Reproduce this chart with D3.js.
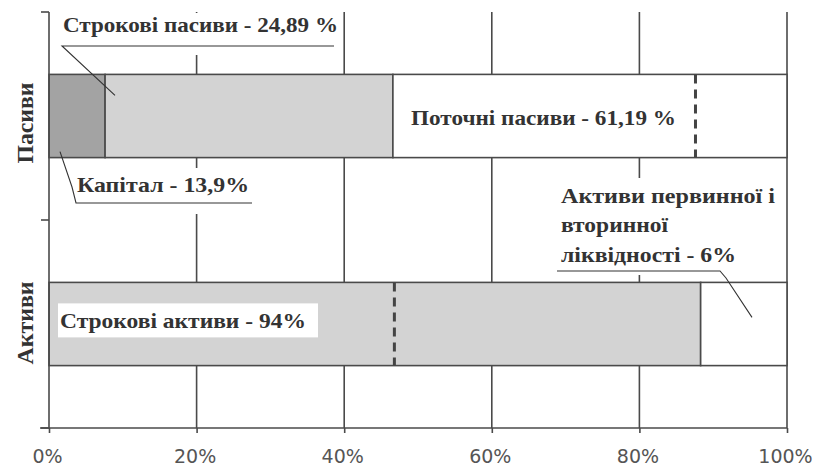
<!DOCTYPE html>
<html>
<head>
<meta charset="utf-8">
<script src="https://cdn.jsdelivr.net/npm/d3@7"></script>
<style>
  html, body { margin: 0; padding: 0; background: #fff; }
  svg { display: block; }
</style>
</head>
<body>
<svg id="chart" width="816" height="472"></svg>
<script>
// ---- data ----
const categories = ["Пасиви", "Активи"];
// segments as drawn, in % of the axis
const pasyvySegmentNames = ["Капітал", "Строкові пасиви", "Поточні пасиви"];
const pasyvyValues = [7.6, 39.0, 53.4];
const aktyvySegmentNames = ["Строкові активи", "Активи первинної і вторинної ліквідності"];
const aktyvyValues = [88.3, 11.7];
// dashed marker lines inside each bar (%)
const dashedMarkers = [87.6, 46.8];
const xTickValues = [0, 20, 40, 60, 80, 100];
const xTickLabels = ["0%", "20%", "40%", "60%", "80%", "100%"];
const gridValues = [20, 40, 60, 80, 100];
// label texts
const labelStrokoviPasyvy = "Строкові пасиви - 24,89 %";
const labelKapital = "Капітал - 13,9%";
const labelPotochni = "Поточні пасиви - 61,19 %";
const labelStrokoviAktyvy = "Строкові активи - 94%";
const labelLiquidLines = ["Активи первинної і", "вторинної", "ліквідності - 6%"];

// ---- styles ----
const pasyvyFills = ["#a3a3a3", "#d3d3d3", "#ffffff"];
const aktyvyFills = ["#d3d3d3", "#ffffff"];
const lineColor = "#4a4a4a";
const textColor = "#333333";
const serif = "'Liberation Serif', 'Times New Roman', serif";

const svg = d3.select("#chart");

const x = d3.scaleLinear().domain([0, 100]).range([49, 787]);
const y = d3.scaleBand().domain(categories).range([12, 428]).paddingInner(0.6).paddingOuter(0.3);
const step = y.step();
const bandTop = c => y(c) - y.paddingOuter() * step;

// gridlines
svg.append("g").selectAll("line").data(gridValues).join("line")
  .attr("x1", d => x(d)).attr("x2", d => x(d))
  .attr("y1", y.range()[0]).attr("y2", y.range()[1])
  .attr("stroke", lineColor).attr("stroke-width", 1.6);

// stacked bars
function stack(values, names, fills) {
  let acc = 0;
  return values.map((v, i) => { const s = { x0: acc, x1: acc + v, name: names[i], fill: fills[i] }; acc += v; return s; });
}
const rows = [
  { cat: categories[0], segs: stack(pasyvyValues, pasyvySegmentNames, pasyvyFills), dash: dashedMarkers[0] },
  { cat: categories[1], segs: stack(aktyvyValues, aktyvySegmentNames, aktyvyFills), dash: dashedMarkers[1] }
];

const barG = svg.append("g");
rows.forEach(r => {
  barG.append("g").selectAll("rect").data(r.segs).join("rect")
    .attr("x", d => x(d.x0)).attr("width", d => x(d.x1) - x(d.x0))
    .attr("y", y(r.cat)).attr("height", y.bandwidth())
    .attr("fill", d => d.fill)
    .attr("stroke", lineColor).attr("stroke-width", 1.6);
  barG.append("line")
    .attr("x1", x(r.dash)).attr("x2", x(r.dash))
    .attr("y1", y(r.cat)).attr("y2", y(r.cat) + y.bandwidth())
    .attr("stroke", "#444").attr("stroke-width", 3)
    .attr("stroke-dasharray", "9,6");
});

// axes
const axisG = svg.append("g");
axisG.append("line").attr("x1", x(0)).attr("x2", x(0))
  .attr("y1", y.range()[0]).attr("y2", y.range()[1])
  .attr("stroke", lineColor).attr("stroke-width", 1.6);
const yBoundaries = categories.map(bandTop).concat([y.range()[1]]);
axisG.selectAll("line.yt").data(yBoundaries).join("line").attr("class", "yt")
  .attr("x1", x(0) - 8).attr("x2", x(0)).attr("y1", d => d).attr("y2", d => d)
  .attr("stroke", lineColor).attr("stroke-width", 1.6);

const xAxis = d3.axisBottom(x).tickValues(xTickValues)
  .tickFormat((d, i) => xTickLabels[i]).tickSize(5).tickSizeOuter(0).tickPadding(17);
const xg = svg.append("g").attr("transform", `translate(0,${y.range()[1]})`).call(xAxis);
xg.select(".domain").attr("d", `M${x(0) - 9},0H${x(100)}`).attr("stroke", lineColor).attr("stroke-width", 1.6);
xg.selectAll(".tick line").attr("stroke", lineColor).attr("stroke-width", 1.6);
xg.selectAll(".tick text")
  .attr("font-family", "'DejaVu Sans', Verdana, sans-serif")
  .attr("font-size", 19).attr("fill", "#555").attr("dx", -2);

// category labels (rotated)
svg.append("g").selectAll("text").data(categories).join("text")
  .attr("transform", (d, i) => `translate(33,${y(d) + y.bandwidth() / 2 + (i === 0 ? 7 : -1)}) rotate(-90)`)
  .attr("text-anchor", "middle")
  .attr("font-family", serif).attr("font-weight", "bold").attr("font-size", 24)
  .attr("fill", textColor)
  .attr("textLength", (d, i) => i === 0 ? 81 : 83).attr("lengthAdjust", "spacingAndGlyphs")
  .text(d => d);

// annotations
const ann = svg.append("g");
function label(txt, x0, baseline, width, size) {
  return ann.append("text").attr("x", x0).attr("y", baseline)
    .attr("font-family", serif).attr("font-weight", "bold").attr("font-size", size || 21)
    .attr("fill", textColor)
    .attr("textLength", width).attr("lengthAdjust", "spacingAndGlyphs")
    .text(txt);
}
function leader(points) {
  ann.append("polyline").attr("points", points.map(p => p.join(",")).join(" "))
    .attr("fill", "none").attr("stroke", "#333").attr("stroke-width", 1.1);
}
const pY = y(categories[0]), aY = y(categories[1]), bw = y.bandwidth();

// Строкові пасиви
ann.append("rect").attr("x", 58).attr("y", 13).attr("width", 284).attr("height", 42).attr("fill", "#fff");
label(labelStrokoviPasyvy, 63, 32, 275);
leader([[334, 46], [62, 46], [115, pY + 21]]);

// Капітал
ann.append("rect").attr("x", 70).attr("y", 168).attr("width", 186).attr("height", 46).attr("fill", "#fff");
label(labelKapital, 77, 192, 172);
leader([[60, pY + bw - 6], [72, 187], [76, 203], [252, 203]]);

// Поточні пасиви
label(labelPotochni, 411, pY + bw / 2 + 9, 265);

// Строкові активи
ann.append("rect").attr("x", 58).attr("y", aY + 21).attr("width", 260).attr("height", 34).attr("fill", "#fff");
label(labelStrokoviAktyvy, 60, aY + 46, 246);

// Активи первинної і вторинної ліквідності
ann.append("rect").attr("x", 554).attr("y", 178).attr("width", 226).attr("height", 97).attr("fill", "#fff");
label(labelLiquidLines[0], 561, 203, 214);
label(labelLiquidLines[1], 561, 232, 107);
label(labelLiquidLines[2], 561, 262, 175);
leader([[557, 271], [720, 271], [726, 278], [752, aY + 35]]);
</script>
</body>
</html>
